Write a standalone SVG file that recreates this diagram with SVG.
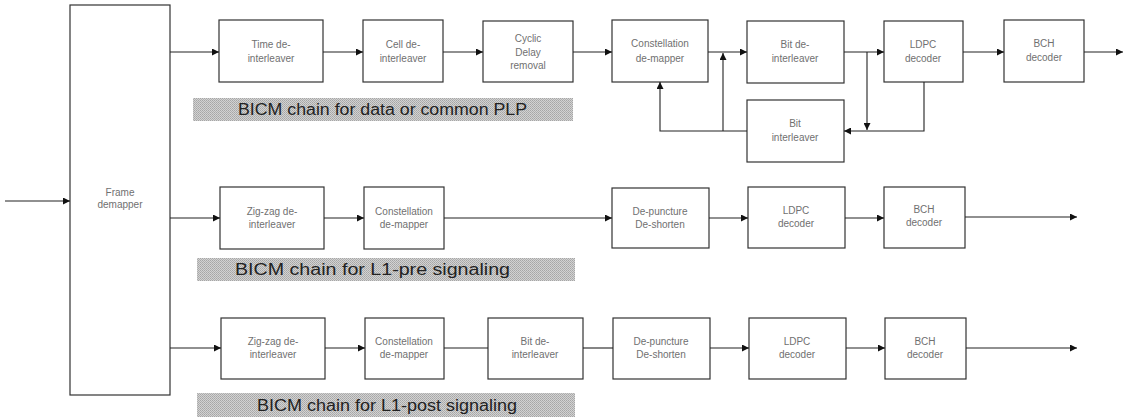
<svg xmlns="http://www.w3.org/2000/svg" width="1127" height="419" viewBox="0 0 1127 419">
<defs>
<marker id="ah" viewBox="0 0 10 10" refX="10" refY="5" markerWidth="7" markerHeight="7" markerUnits="userSpaceOnUse" orient="auto"><path d="M0,0 L10,5 L0,10 z" fill="#111"/></marker>
<pattern id="hatch" width="2" height="2" patternUnits="userSpaceOnUse"><rect width="2" height="2" fill="#d2d2d2"/><rect width="1" height="1" fill="#a6a6a6"/><rect x="1" y="1" width="1" height="1" fill="#b0b0b0"/></pattern>
<style>
.box{fill:#fff;stroke:#333;stroke-width:1.2}
.t{font-family:"Liberation Sans",Arial,sans-serif;font-size:10px;fill:#707070;text-anchor:middle}
.lbl{font-family:"Liberation Sans",Arial,sans-serif;font-size:16px;fill:#222}
.c{fill:none;stroke:#222;stroke-width:1.1}
.a{marker-end:url(#ah)}
.band{fill:url(#hatch)}
</style>
</defs>
<rect width="1127" height="419" fill="#fff"/>

<g id="frame"><rect class="box" x="70" y="5" width="100" height="390"/><text class="t" x="120" y="196">Frame</text><text class="t" x="120" y="208">demapper</text></g>

<g id="label-data"><rect class="band" x="193" y="98" width="380" height="23"/><text class="lbl" x="238" y="115" textLength="289" lengthAdjust="spacingAndGlyphs">BICM chain for data or common PLP</text></g>
<g id="label-pre"><rect class="band" x="197" y="258" width="378" height="23"/><text class="lbl" x="235" y="275" textLength="275" lengthAdjust="spacingAndGlyphs">BICM chain for L1-pre signaling</text></g>
<g id="label-post"><rect class="band" x="197" y="393" width="378" height="24"/><text class="lbl" x="257" y="411" textLength="260" lengthAdjust="spacingAndGlyphs">BICM chain for L1-post signaling</text></g>

<!-- top row -->
<g id="time-deint"><rect class="box" x="219" y="20" width="104" height="62"/><text class="t" x="271" y="48">Time de-</text><text class="t" x="271" y="62">interleaver</text></g>
<g id="cell-deint"><rect class="box" x="363" y="20" width="80" height="62"/><text class="t" x="403" y="48">Cell de-</text><text class="t" x="403" y="62">interleaver</text></g>
<g id="cdd-removal"><rect class="box" x="483" y="21" width="90" height="61"/><text class="t" x="528" y="42">Cyclic</text><text class="t" x="528" y="56">Delay</text><text class="t" x="528" y="69">removal</text></g>
<g id="const-demap1"><rect class="box" x="612" y="20" width="96" height="62"/><text class="t" x="660" y="47">Constellation</text><text class="t" x="660" y="62">de-mapper</text></g>
<g id="bit-deint1"><rect class="box" x="747" y="21" width="97" height="62"/><text class="t" x="795" y="48">Bit de-</text><text class="t" x="795" y="62">interleaver</text></g>
<g id="ldpc1"><rect class="box" x="884" y="21" width="79" height="61"/><text class="t" x="923" y="48">LDPC</text><text class="t" x="923" y="62">decoder</text></g>
<g id="bch1"><rect class="box" x="1004" y="20" width="80" height="62"/><text class="t" x="1044" y="47">BCH</text><text class="t" x="1044" y="61">decoder</text></g>
<g id="bit-int"><rect class="box" x="747" y="100" width="97" height="62"/><text class="t" x="795" y="127">Bit</text><text class="t" x="795" y="141">interleaver</text></g>

<!-- middle row -->
<g id="zz-deint2"><rect class="box" x="220" y="187" width="104" height="62"/><text class="t" x="272" y="215">Zig-zag de-</text><text class="t" x="272" y="228">interleaver</text></g>
<g id="const-demap2"><rect class="box" x="364" y="187" width="80" height="62"/><text class="t" x="404" y="215">Constellation</text><text class="t" x="404" y="228">de-mapper</text></g>
<g id="depunct2"><rect class="box" x="612" y="188" width="97" height="60"/><text class="t" x="660" y="215">De-puncture</text><text class="t" x="660" y="228">De-shorten</text></g>
<g id="ldpc2"><rect class="box" x="748" y="187" width="97" height="61"/><text class="t" x="796" y="214">LDPC</text><text class="t" x="796" y="227">decoder</text></g>
<g id="bch2"><rect class="box" x="884" y="187" width="81" height="61"/><text class="t" x="924" y="213">BCH</text><text class="t" x="924" y="226">decoder</text></g>

<!-- bottom row -->
<g id="zz-deint3"><rect class="box" x="221" y="318" width="104" height="61"/><text class="t" x="273" y="345">Zig-zag de-</text><text class="t" x="273" y="358">interleaver</text></g>
<g id="const-demap3"><rect class="box" x="365" y="318" width="79" height="61"/><text class="t" x="404" y="345">Constellation</text><text class="t" x="404" y="358">de-mapper</text></g>
<g id="bit-deint3"><rect class="box" x="488" y="318" width="95" height="61"/><text class="t" x="535" y="345">Bit de-</text><text class="t" x="535" y="358">interleaver</text></g>
<g id="depunct3"><rect class="box" x="613" y="318" width="97" height="61"/><text class="t" x="661" y="345">De-puncture</text><text class="t" x="661" y="358">De-shorten</text></g>
<g id="ldpc3"><rect class="box" x="749" y="318" width="97" height="61"/><text class="t" x="797" y="345">LDPC</text><text class="t" x="797" y="358">decoder</text></g>
<g id="bch3"><rect class="box" x="885" y="318" width="81" height="61"/><text class="t" x="925" y="345">BCH</text><text class="t" x="925" y="358">decoder</text></g>

<g id="connectors">
<path class="c a" d="M5,201 H70"/>
<path class="c a" d="M170,52 H219"/>
<path class="c a" d="M323,52 H363"/>
<path class="c a" d="M443,52 H483"/>
<path class="c a" d="M573,52 H612"/>
<path class="c a" d="M708,52 H747"/>
<path class="c a" d="M844,52 H884"/>
<path class="c a" d="M963,52 H1004"/>
<path class="c a" d="M1084,52 H1123"/>
<path class="c a" d="M867,52 V130"/>
<path class="c a" d="M924,82 V131 H844"/>
<path class="c a" d="M747,131 H660 V82"/>
<path class="c a" d="M723,131 V53"/>

<path class="c a" d="M170,218 H220"/>
<path class="c a" d="M324,218 H364"/>
<path class="c a" d="M444,218 H612"/>
<path class="c a" d="M709,218 H748"/>
<path class="c a" d="M845,218 H884"/>
<path class="c a" d="M965,217 H1077"/>

<path class="c a" d="M170,348 H221"/>
<path class="c a" d="M325,348 H365"/>
<path class="c" d="M444,348 H488"/>
<path class="c" d="M583,348 H613"/>
<path class="c a" d="M710,348 H749"/>
<path class="c a" d="M846,348 H885"/>
<path class="c a" d="M966,348 H1077"/>
</g>
</svg>
